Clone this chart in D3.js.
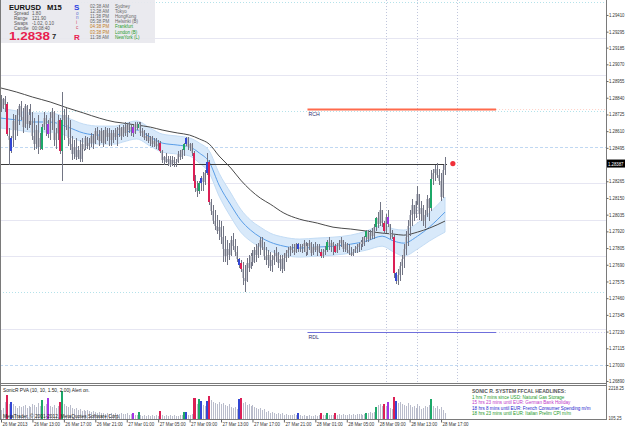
<!DOCTYPE html>
<html>
<head>
<meta charset="utf-8">
<script src="https://cdn.jsdelivr.net/npm/d3@7"></script>
<style>
  html, body { margin: 0; padding: 0; background: #fff; }
  svg { display: block; font-family: "Liberation Sans", Arial, sans-serif; }
</style>
</head>
<body>
<div id="chart"></div>
<script>
// EURUSD M15 bars from 26 Mar 2013 09:00, [open, high, low, close]
const candles = [
  [1.2882,1.2886,1.2874,1.2877],[1.2877,1.2884,1.2876,1.2883],[1.2883,1.2885,1.2874,1.2879],[1.2880,1.2881,1.2858,1.2859],
  [1.2858,1.2863,1.2838,1.2855],[1.2847,1.2858,1.2846,1.2856],[1.2856,1.2873,1.2850,1.2868],[1.2868,1.2872,1.2855,1.2862],
  [1.2862,1.2876,1.2858,1.2872],[1.2872,1.2880,1.2865,1.2878],[1.2878,1.2882,1.2869,1.2871],[1.2871,1.2877,1.2860,1.2864],
  [1.2864,1.2880,1.2863,1.2878],[1.2878,1.2879,1.2862,1.2866],[1.2866,1.2876,1.2863,1.2872],[1.2872,1.2880,1.2865,1.2868],
  [1.2868,1.2874,1.2855,1.2858],[1.2858,1.2870,1.2848,1.2852],[1.2852,1.2865,1.2849,1.2862],[1.2862,1.2872,1.2845,1.2850],
  [1.2850,1.2860,1.2848,1.2856],[1.2849,1.2866,1.2848,1.2864],[1.2864,1.2874,1.2862,1.2870],[1.2870,1.2872,1.2858,1.2866],
  [1.2866,1.2869,1.2856,1.2859],[1.2859,1.2874,1.2855,1.2870],[1.2870,1.2877,1.2862,1.2874],[1.2874,1.2875,1.2851,1.2855],
  [1.2855,1.2863,1.2849,1.2860],[1.2860,1.2872,1.2855,1.2868],[1.2869,1.2870,1.2845,1.2847],[1.2847,1.2888,1.2827,1.2869],
  [1.2869,1.2876,1.2855,1.2872],[1.2872,1.2877,1.2862,1.2865],[1.2865,1.2872,1.2851,1.2856],[1.2856,1.2869,1.2848,1.2852],
  [1.2852,1.2858,1.2841,1.2845],[1.2845,1.2855,1.2842,1.2850],[1.2850,1.2856,1.2841,1.2843],[1.2843,1.2851,1.2842,1.2848],
  [1.2848,1.2855,1.2840,1.2842],[1.2842,1.2856,1.2840,1.2852],[1.2852,1.2855,1.2847,1.2849],[1.2849,1.2858,1.2848,1.2856],
  [1.2856,1.2857,1.2849,1.2851],[1.2851,1.2856,1.2848,1.2853],[1.2853,1.2860,1.2850,1.2858],[1.2858,1.2859,1.2849,1.2853],
  [1.2853,1.2863,1.2852,1.2861],[1.2861,1.2864,1.2855,1.2858],[1.2858,1.2862,1.2851,1.2854],[1.2854,1.2863,1.2853,1.2861],
  [1.2861,1.2862,1.2850,1.2853],[1.2853,1.2864,1.2852,1.2862],[1.2862,1.2863,1.2854,1.2857],[1.2857,1.2863,1.2851,1.2860],
  [1.2860,1.2862,1.2851,1.2855],[1.2855,1.2862,1.2853,1.2860],[1.2860,1.2863,1.2855,1.2857],[1.2857,1.2864,1.2851,1.2862],
  [1.2862,1.2865,1.2857,1.2863],[1.2863,1.2864,1.2855,1.2858],[1.2858,1.2865,1.2857,1.2864],[1.2864,1.2867,1.2858,1.2860],
  [1.2860,1.2866,1.2857,1.2865],[1.2865,1.2867,1.2860,1.2862],[1.2862,1.2865,1.2858,1.2864],[1.2864,1.2865,1.2857,1.2860],
  [1.2860,1.2867,1.2859,1.2866],[1.2866,1.2867,1.2862,1.2863],[1.2863,1.2867,1.2860,1.2866],[1.2866,1.2867,1.2858,1.2860],
  [1.2860,1.2863,1.2857,1.2861],[1.2861,1.2862,1.2855,1.2856],[1.2856,1.2860,1.2854,1.2858],[1.2858,1.2860,1.2853,1.2854],
  [1.2854,1.2858,1.2851,1.2857],[1.2857,1.2858,1.2850,1.2852],[1.2852,1.2856,1.2850,1.2854],[1.2854,1.2856,1.2849,1.2851],
  [1.2851,1.2855,1.2848,1.2852],[1.2853,1.2854,1.2846,1.2847],[1.2847,1.2848,1.2839,1.2841],[1.2841,1.2844,1.2838,1.2843],
  [1.2843,1.2846,1.2839,1.2840],[1.2840,1.2844,1.2837,1.2842],[1.2842,1.2844,1.2836,1.2838],[1.2838,1.2844,1.2837,1.2841],
  [1.2841,1.2843,1.2836,1.2839],[1.2839,1.2842,1.2836,1.2840],[1.2840,1.2847,1.2839,1.2845],[1.2845,1.2848,1.2841,1.2843],
  [1.2843,1.2849,1.2842,1.2848],[1.2848,1.2853,1.2844,1.2852],[1.2852,1.2857,1.2851,1.2856],[1.2856,1.2857,1.2848,1.2850],
  [1.2850,1.2853,1.2847,1.2852],[1.2852,1.2853,1.2844,1.2846],[1.2846,1.2847,1.2825,1.2827],[1.2827,1.2831,1.2819,1.2822],
  [1.2822,1.2827,1.2816,1.2820],[1.2820,1.2827,1.2818,1.2825],[1.2825,1.2830,1.2820,1.2829],[1.2829,1.2833,1.2820,1.2826],
  [1.2826,1.2834,1.2824,1.2832],[1.2832,1.2846,1.2831,1.2840],[1.2840,1.2841,1.2810,1.2812],[1.2812,1.2814,1.2803,1.2806],
  [1.2806,1.2810,1.2797,1.2799],[1.2799,1.2807,1.2793,1.2796],[1.2796,1.2803,1.2790,1.2792],[1.2792,1.2800,1.2786,1.2795],
  [1.2795,1.2799,1.2783,1.2788],[1.2788,1.2796,1.2771,1.2780],[1.2780,1.2789,1.2771,1.2775],[1.2775,1.2786,1.2769,1.2780],
  [1.2780,1.2784,1.2772,1.2776],[1.2776,1.2789,1.2775,1.2786],[1.2786,1.2791,1.2779,1.2782],[1.2782,1.2787,1.2775,1.2778],
  [1.2778,1.2782,1.2771,1.2773],[1.2773,1.2774,1.2767,1.2769],[1.2770,1.2772,1.2764,1.2766],[1.2766,1.2771,1.2755,1.2760],
  [1.2760,1.2769,1.2750,1.2758],[1.2758,1.2774,1.2757,1.2770],[1.2770,1.2776,1.2764,1.2767],[1.2767,1.2777,1.2766,1.2775],
  [1.2775,1.2779,1.2768,1.2771],[1.2771,1.2781,1.2770,1.2779],[1.2779,1.2783,1.2771,1.2776],[1.2776,1.2784,1.2774,1.2782],
  [1.2782,1.2788,1.2776,1.2786],[1.2786,1.2788,1.2779,1.2781],[1.2781,1.2785,1.2772,1.2775],[1.2775,1.2781,1.2769,1.2772],
  [1.2772,1.2779,1.2767,1.2776],[1.2776,1.2778,1.2765,1.2768],[1.2768,1.2776,1.2764,1.2772],[1.2772,1.2779,1.2769,1.2775],
  [1.2775,1.2781,1.2771,1.2777],[1.2777,1.2778,1.2767,1.2770],[1.2770,1.2776,1.2765,1.2773],[1.2773,1.2776,1.2763,1.2766],
  [1.2766,1.2777,1.2765,1.2774],[1.2774,1.2779,1.2771,1.2777],[1.2777,1.2781,1.2774,1.2779],[1.2779,1.2782,1.2775,1.2781],
  [1.2781,1.2783,1.2777,1.2779],[1.2779,1.2783,1.2776,1.2778],[1.2778,1.2784,1.2777,1.2783],[1.2783,1.2784,1.2778,1.2780],
  [1.2780,1.2783,1.2778,1.2781],[1.2781,1.2783,1.2777,1.2782],[1.2782,1.2786,1.2778,1.2784],[1.2784,1.2785,1.2775,1.2778],
  [1.2778,1.2784,1.2776,1.2782],[1.2782,1.2786,1.2779,1.2784],[1.2784,1.2785,1.2775,1.2777],[1.2777,1.2783,1.2776,1.2781],
  [1.2781,1.2785,1.2778,1.2779],[1.2779,1.2783,1.2775,1.2782],[1.2782,1.2783,1.2777,1.2778],[1.2778,1.2780,1.2774,1.2775],
  [1.2775,1.2780,1.2774,1.2778],[1.2778,1.2782,1.2776,1.2779],[1.2779,1.2786,1.2778,1.2785],[1.2785,1.2788,1.2779,1.2782],
  [1.2782,1.2786,1.2778,1.2784],[1.2784,1.2785,1.2776,1.2782],[1.2782,1.2783,1.2777,1.2778],[1.2778,1.2784,1.2777,1.2782],
  [1.2782,1.2786,1.2779,1.2784],[1.2784,1.2788,1.2781,1.2786],[1.2786,1.2786,1.2778,1.2780],[1.2780,1.2785,1.2778,1.2783],
  [1.2783,1.2784,1.2777,1.2779],[1.2779,1.2783,1.2776,1.2777],[1.2777,1.2781,1.2775,1.2776],[1.2776,1.2780,1.2775,1.2778],
  [1.2778,1.2782,1.2777,1.2780],[1.2780,1.2783,1.2777,1.2781],[1.2781,1.2784,1.2778,1.2783],[1.2783,1.2786,1.2779,1.2785],
  [1.2785,1.2788,1.2781,1.2783],[1.2783,1.2789,1.2782,1.2788],[1.2788,1.2793,1.2785,1.2792],[1.2792,1.2793,1.2785,1.2787],
  [1.2787,1.2793,1.2786,1.2791],[1.2791,1.2794,1.2787,1.2789],[1.2789,1.2797,1.2787,1.2795],[1.2795,1.2802,1.2792,1.2801],
  [1.2801,1.2805,1.2794,1.2797],[1.2797,1.2812,1.2796,1.2807],[1.2807,1.2807,1.2795,1.2798],[1.2798,1.2799,1.2790,1.2792],
  [1.2792,1.2804,1.2791,1.2802],[1.2802,1.2807,1.2795,1.2797],[1.2797,1.2797,1.2787,1.2790],[1.2790,1.2793,1.2787,1.2788],
  [1.2788,1.2790,1.2760,1.2763],[1.2763,1.2764,1.2756,1.2758],[1.2758,1.2766,1.2755,1.2762],[1.2762,1.2771,1.2758,1.2768],
  [1.2768,1.2776,1.2762,1.2773],[1.2773,1.2783,1.2767,1.2780],[1.2780,1.2792,1.2776,1.2788],[1.2788,1.2800,1.2782,1.2796],
  [1.2796,1.2807,1.2789,1.2803],[1.2803,1.2814,1.2796,1.2810],[1.2810,1.2810,1.2799,1.2804],[1.2804,1.2817,1.2801,1.2813],
  [1.2813,1.2823,1.2810,1.2818],[1.2818,1.2818,1.2800,1.2804],[1.2804,1.2813,1.2799,1.2808],[1.2808,1.2810,1.2796,1.2799],
  [1.2799,1.2807,1.2794,1.2803],[1.2803,1.2817,1.2802,1.2814],[1.2814,1.2815,1.2799,1.2808],[1.2808,1.2834,1.2806,1.2828],
  [1.2828,1.2835,1.2824,1.2832],[1.2832,1.2838,1.2827,1.2835],[1.2835,1.2839,1.2829,1.2831],[1.2831,1.2835,1.2824,1.2827],
  [1.2827,1.2832,1.2813,1.2816],[1.2816,1.2838,1.2815,1.2834],[1.2834,1.2843,1.2831,1.28387]
];

// tick volume per bar
const tickVolumes = [
  633,765,1161,1623,1029,1161,1029,897,765,897, 831,897,963,765,897,831,1029,963,831,1095,
  897,1293,897,1029,1425,897,831,963,765,897, 1161,1887,1029,897,831,963,765,699,765,633,
  699,567,633,567,633,567,501,567,501,435, 501,435,435,369,435,369,435,369,435,369,
  369,435,369,369,435,303,369,435,303,303, 501,303,237,303,237,303,237,303,237,303,
  237,567,303,237,303,237,303,237,303,237, 237,303,303,501,501,303,303,369,1425,1425,
  1029,1359,1227,963,897,1227,1557,1293,1161,1095, 1029,1161,1029,1095,963,897,1029,831,765,831,
  699,1359,1425,1095,1161,963,1029,897,963,831, 765,699,765,633,699,501,567,435,501,435,
  369,435,369,435,303,369,303,303,303,369, 303,435,303,237,303,237,237,303,237,237,
  303,237,303,435,303,303,435,303,303,303, 435,303,369,303,369,303,303,369,303,369,
  303,369,369,369,303,369,435,435,501,435, 501,831,963,1029,897,1029,897,1161,765,699,
  1491,1227,1095,1161,1029,963,897,1095,963,831, 897,765,1029,897,699,765,897,831,963,1359,
  897,765,897,699,831,633,435
];

// Sonic R PVA highlighted bars
const redBars = [3, 30, 81, 98, 99, 106, 122, 163, 170, 195, 200];
const greenBars = [21, 31, 70, 93, 101, 166, 186, 191, 219];
const blueBars = [5, 94, 102, 105, 121, 151, 201];
const violetBars = [24, 67, 197];

// moving averages, sampled at these bars
const maBars = [0,8,16,25,34,42,50,58,62,69,76,82,90,96,101,106,111,117,122,127,132,137,144,152,161,169,178,186,194,200,205,212,218,226];
const slowMa = [1.28907,1.28879,1.28845,1.28811,1.28769,1.28735,1.28700,1.28673,1.28666,1.28652,1.28638,1.28618,1.28597,1.28583,1.28556,1.28521,1.28439,1.28356,1.28273,1.28204,1.28149,1.28108,1.28046,1.28004,1.27977,1.27949,1.27936,1.27922,1.27908,1.27901,1.27894,1.27915,1.27942,1.27991];
const dragonHigh = [1.28769,1.28749,1.28735,1.28735,1.28700,1.28659,1.28645,1.28645,1.28659,1.28680,1.28631,1.28590,1.28576,1.28563,1.28528,1.28473,1.28321,1.28184,1.28073,1.27998,1.27949,1.27908,1.27880,1.27867,1.27874,1.27880,1.27894,1.27922,1.27963,1.27936,1.27929,1.27977,1.28046,1.28156];
const dragonClose = [1.28700,1.28687,1.28673,1.28673,1.28638,1.28597,1.28583,1.28583,1.28597,1.28618,1.28569,1.28528,1.28514,1.28501,1.28459,1.28397,1.28239,1.28101,1.27998,1.27929,1.27880,1.27846,1.27818,1.27805,1.27812,1.27818,1.27832,1.27853,1.27887,1.27853,1.27839,1.27887,1.27949,1.28053];
const dragonLow = [1.28631,1.28618,1.28604,1.28604,1.28576,1.28535,1.28521,1.28521,1.28535,1.28556,1.28507,1.28466,1.28452,1.28439,1.28390,1.28321,1.28163,1.28018,1.27915,1.27853,1.27812,1.27784,1.27756,1.27743,1.27750,1.27756,1.27770,1.27791,1.27818,1.27777,1.27750,1.27798,1.27853,1.27915];

const timeLabels = ["26 Mar 2013","26 Mar 13:00","26 Mar 17:00","26 Mar 21:00","27 Mar 01:00","27 Mar 05:00","27 Mar 09:00","27 Mar 13:00","27 Mar 17:00","27 Mar 21:00","28 Mar 01:00","28 Mar 05:00","28 Mar 09:00","28 Mar 13:00","28 Mar 17:00"];
const timeLabelBars = [0,16,32,48,64,80,96,112,128,144,160,176,192,208,224];
const priceTicks = ["1.29410","1.29295","1.29185","1.29070","1.28955","1.28840","1.28725","1.28610","1.28495","1.28265","1.28150","1.28035","1.27920","1.27805","1.27690","1.27575","1.27460","1.27345","1.27230","1.27115","1.27000","1.26890"];
const volumeTicks = ["2218.25", "105.25"];

const bidPrice = 1.28387;
const solidLevels = [1.2925, 1.2900, 1.2825, 1.2800, 1.2775, 1.2725];
const dottedLevels = [1.2950, 1.2875, 1.2750];
const dashedLevels = [1.2850, 1.2700];
const sessionBars = [196, 212, 232];
const rangeLines = [
  { name: "RCH", price: 1.2876, from: 156, to: 252 },
  { name: "RDL", price: 1.2723, from: 156, to: 252 }
];

const sessions = [
  ["02:38 AM", "Sydney"], ["12:38 AM", "Tokyo"], ["11:38 PM", "HongKong"], ["05:38 PM", "Helsinki (B)"],
  ["04:38 PM", "Frankfurt"], ["03:38 PM", "London (B)"], ["11:38 AM", "NewYork (L)"]
];
const headlines = [
  "1 hrs 7 mins since USD: Natural Gas Storage",
  "15 hrs 23 mins until EUR: German Bank Holiday",
  "18 hrs 8 mins until EUR: French Consumer Spending m/m",
  "18 hrs 23 mins until EUR: Italian Prelim CPI m/m"
];

const width = 625, height = 429;
const plotRight = 606, mainBottom = 383, volTop = 385, volBottom = 419;

const colors = { red: "#dc1f55", green: "#1ca868", blue: "#3347d4", violet: "#a433e6" };
const barColor = i =>
  redBars.includes(i) ? colors.red :
  greenBars.includes(i) ? colors.green :
  blueBars.includes(i) ? colors.blue :
  violetBars.includes(i) ? colors.violet : null;

const x = d3.scaleLinear().domain([0, 226]).range([1, 445]);
const y = d3.scaleLinear().domain([1.26876, 1.29513]).range([mainBottom, 0]);
const yVol = d3.scaleLinear().domain([105.25, 2218.25]).range([418, 386]);
const px = i => Math.round(x(i));

const svg = d3.select("#chart").append("svg")
  .attr("width", width).attr("height", height)
  .attr("viewBox", [0, 0, width, height]);

const main = svg.append("g");
main.append("clipPath").attr("id", "main-clip")
  .append("rect").attr("width", plotRight).attr("height", mainBottom);
const plot = main.append("g").attr("clip-path", "url(#main-clip)");

// round number levels
const levelLine = (levels, stroke, dash) => plot.append("g")
  .selectAll("line").data(levels).join("line")
  .attr("x1", 0).attr("x2", plotRight)
  .attr("y1", d => Math.round(y(d)) + 0.5).attr("y2", d => Math.round(y(d)) + 0.5)
  .attr("stroke", stroke).attr("stroke-dasharray", dash);
levelLine(solidLevels, "#e6e6f2", null);
levelLine(dottedLevels, "#b4e2ea", "1 2");
levelLine(dashedLevels, "#c0d8f2", "3 2");

// session separators
plot.append("g").selectAll("line").data(sessionBars).join("line")
  .attr("x1", d => px(d) + 0.5).attr("x2", d => px(d) + 0.5)
  .attr("y1", 0).attr("y2", mainBottom)
  .attr("stroke", "#c0c6dc").attr("stroke-dasharray", "1 2");

// dragon band
const bandData = maBars.map((b, k) => ({ b, hi: dragonHigh[k], mid: dragonClose[k], lo: dragonLow[k], slow: slowMa[k] }));
plot.append("path").datum(bandData)
  .attr("fill", "#d8e9fa").attr("stroke", "#c3dcf5").attr("stroke-width", 1)
  .attr("d", d3.area().x(d => x(d.b)).y0(d => y(d.lo)).y1(d => y(d.hi)).curve(d3.curveMonotoneX));
plot.append("path").datum(bandData)
  .attr("fill", "none").attr("stroke", "#5a9ee8").attr("stroke-width", 1)
  .attr("d", d3.line().x(d => x(d.b)).y(d => y(d.mid)).curve(d3.curveMonotoneX));
plot.append("path").datum(bandData)
  .attr("fill", "none").attr("stroke", "#4a4a4a").attr("stroke-width", 1)
  .attr("d", d3.line().x(d => x(d.b)).y(d => y(d.slow)).curve(d3.curveMonotoneX));

// range lines
rangeLines.forEach((r, k) => {
  const yy = Math.round(y(r.price)) + 0.5;
  plot.append("line")
    .attr("x1", x(r.from)).attr("x2", x(r.to)).attr("y1", yy).attr("y2", yy)
    .attr("stroke", k === 0 ? "#ff6a4d" : "#6f6fdc").attr("stroke-width", k === 0 ? 2 : 1);
  plot.append("line")
    .attr("x1", x(r.to)).attr("x2", plotRight).attr("y1", yy).attr("y2", yy)
    .attr("stroke", k === 0 ? "#ffd0c6" : "#d0d0f2").attr("stroke-dasharray", "1 2");
  plot.append("text")
    .attr("x", x(r.from) + 1).attr("y", yy + 6.5)
    .attr("font-size", 5.2).attr("fill", "#303070").text(r.name);
});

// bid line
plot.append("line")
  .attr("x1", 0).attr("x2", x(226) + 2)
  .attr("y1", Math.round(y(bidPrice)) + 0.5).attr("y2", Math.round(y(bidPrice)) + 0.5)
  .attr("stroke", "#3a3a3a");

// candles
const bars = plot.append("g").attr("shape-rendering", "crispEdges");
candles.forEach(([o, h, l, c], i) => {
  const col = barColor(i);
  const top = y(Math.max(o, c)), bot = y(Math.min(o, c));
  if (!col) {
    bars.append("rect").attr("x", px(i) - 1).attr("y", top).attr("width", 2)
      .attr("height", Math.max(1, bot - top)).attr("fill", "#c4c6ce");
  }
  bars.append("rect").attr("x", px(i)).attr("y", y(h)).attr("width", 1)
    .attr("height", Math.max(1, y(l) - y(h))).attr("fill", "#727584");
  if (col) {
    bars.append("rect").attr("x", px(i) - 1).attr("y", top).attr("width", 2)
      .attr("height", Math.max(1, bot - top)).attr("fill", col);
  }
});

// last price marker
plot.append("circle")
  .attr("cx", x(230)).attr("cy", y(bidPrice)).attr("r", 2.6)
  .attr("fill", "#f0303a");

// info panel
const info = svg.append("g");
info.append("rect").attr("x", 0).attr("y", 0).attr("width", 155).attr("height", 43)
  .attr("fill", "#e8e8ee").attr("opacity", 0.92);
info.append("text").attr("x", 9).attr("y", 9.5).attr("font-size", 7.6).attr("font-weight", "bold")
  .attr("fill", "#111").text("EURUSD");
info.append("text").attr("x", 47).attr("y", 9.5).attr("font-size", 7.6).attr("font-weight", "bold")
  .attr("fill", "#111").text("M15");
const stats = [["Spread", "1.80"], ["Range", "121.90"], ["Swaps", "-1.02, 0.10"], ["Candle", "00:08:40"]];
stats.forEach(([k, v], j) => {
  info.append("text").attr("x", 14).attr("y", 15 + j * 4.9).attr("font-size", 4.6).attr("fill", "#555").text(k);
  info.append("text").attr("x", 32).attr("y", 15 + j * 4.9).attr("font-size", 4.6).attr("fill", "#555").text(v);
});
info.append("text").attr("x", 9).attr("y", 40).attr("font-size", 11.5).attr("font-weight", "bold")
  .attr("fill", "#e8204f").attr("textLength", 41).attr("lengthAdjust", "spacingAndGlyphs").text("1.2838");
info.append("text").attr("x", 52).attr("y", 38.5).attr("font-size", 7.5).attr("font-weight", "bold")
  .attr("fill", "#222").text("7");
info.append("text").attr("x", 74).attr("y", 9.5).attr("font-size", 8).attr("font-weight", "bold")
  .attr("fill", "#2a3ee0").text("S");
["o", "n", "i", "c"].forEach((ch, j) => {
  info.append("text").attr("x", 76).attr("y", 14.5 + j * 4.8).attr("font-size", 4.6)
    .attr("fill", j < 2 ? "#6070d0" : "#d04060").text(ch);
});
info.append("text").attr("x", 74).attr("y", 39.5).attr("font-size", 8).attr("font-weight", "bold")
  .attr("fill", "#e8204f").text("R");
sessions.forEach(([t, name], j) => {
  const yy = 7.5 + j * 5.2;
  info.append("text").attr("x", 90).attr("y", yy).attr("font-size", 4.5)
    .attr("fill", j === 4 || j === 5 ? "#c07a20" : "#666").text(t);
  info.append("text").attr("x", 115).attr("y", yy).attr("font-size", 4.5)
    .attr("fill", j >= 4 ? "#1f9a2a" : "#666").text(name);
});

// frames
const frame = svg.append("g").attr("fill", "none").attr("stroke", "#7a7a7a").attr("shape-rendering", "crispEdges");
frame.append("line").attr("x1", 0.5).attr("x2", 0.5).attr("y1", 0).attr("y2", volBottom);
frame.append("line").attr("x1", plotRight + 0.5).attr("x2", plotRight + 0.5).attr("y1", 0).attr("y2", volBottom + 1);
frame.append("line").attr("x1", 0).attr("x2", plotRight).attr("y1", mainBottom + 0.5).attr("y2", mainBottom + 0.5);
frame.append("line").attr("x1", 0).attr("x2", plotRight).attr("y1", volTop + 0.5).attr("y2", volTop + 0.5);
frame.append("line").attr("x1", 0).attr("x2", plotRight + 1).attr("y1", volBottom + 0.5).attr("y2", volBottom + 0.5);

// price axis
const priceAxis = svg.append("g").attr("transform", `translate(${plotRight + 0.5},0)`)
  .call(d3.axisRight(y).tickValues(priceTicks.map(Number)).tickSize(2).tickFormat((d, k) => priceTicks[k]));
priceAxis.select(".domain").remove();
priceAxis.selectAll("line").attr("stroke", "#666");
priceAxis.selectAll("text").attr("x", 2.5).attr("font-size", 4.8).attr("fill", "#333")
  .attr("textLength", 15.5).attr("lengthAdjust", "spacingAndGlyphs")
  .attr("font-family", "Liberation Sans, Arial, sans-serif");

svg.append("rect").attr("x", plotRight + 1).attr("y", y(bidPrice) - 4).attr("width", 18).attr("height", 8)
  .attr("fill", "#000");
svg.append("text").attr("x", plotRight + 2).attr("y", y(bidPrice) + 2).attr("font-size", 4.8)
  .attr("fill", "#fff").attr("textLength", 15.5).attr("lengthAdjust", "spacingAndGlyphs")
  .text(bidPrice.toFixed(5));

// volume pane
const vol = svg.append("g").attr("shape-rendering", "crispEdges");
tickVolumes.forEach((v, i) => {
  const col = barColor(i);
  vol.append("rect")
    .attr("x", col ? px(i) - 1 : px(i)).attr("width", col ? 2 : 1)
    .attr("y", yVol(v)).attr("height", volBottom - yVol(v))
    .attr("fill", col || "#b9bccb");
});
svg.append("text").attr("x", 3).attr("y", 391.5).attr("font-size", 4.8).attr("fill", "#222")
  .text("SonicR PVA  (10, 10, 1.50, 2.00)   Alert on.");
svg.append("text").attr("x", 3).attr("y", 418).attr("font-size", 4.8).attr("fill", "#222")
  .text("MetaTrader, © 2001-2012, MetaQuotes Software Corp.");
svg.append("text").attr("x", 472).attr("y", 393).attr("font-size", 5).attr("font-weight", "bold")
  .attr("fill", "#555").text("SONIC R. SYSTEM FFCAL HEADLINES:");
const headColors = ["#1f9a2a", "#c038c8", "#2424cc", "#1f9a2a"];
headlines.forEach((t, j) => {
  svg.append("text").attr("x", 472).attr("y", 399 + j * 5.3).attr("font-size", 4.6)
    .attr("fill", headColors[j]).text(t);
});
const volAxis = svg.append("g");
volumeTicks.forEach((t, j) => {
  volAxis.append("text").attr("x", plotRight + 2.5).attr("y", j === 0 ? 389.5 : 420)
    .attr("font-size", 4.8).attr("fill", "#333")
    .attr("textLength", j === 0 ? 15.5 : 13).attr("lengthAdjust", "spacingAndGlyphs").text(t);
});

// time axis
const timeAxis = svg.append("g").attr("transform", `translate(0,${volBottom + 0.5})`)
  .call(d3.axisBottom(x).tickValues(timeLabelBars).tickSize(3).tickFormat((d, k) => timeLabels[k]));
timeAxis.select(".domain").remove();
timeAxis.selectAll("line").attr("stroke", "#666");
timeAxis.selectAll("text").attr("text-anchor", "start").attr("dx", 1).attr("y", 3.5)
  .attr("font-size", 4.9).attr("fill", "#333")
  .attr("textLength", (d, k) => k === 0 ? 25 : 26).attr("lengthAdjust", "spacingAndGlyphs")
  .attr("font-family", "Liberation Sans, Arial, sans-serif");
</script>
</body>
</html>
